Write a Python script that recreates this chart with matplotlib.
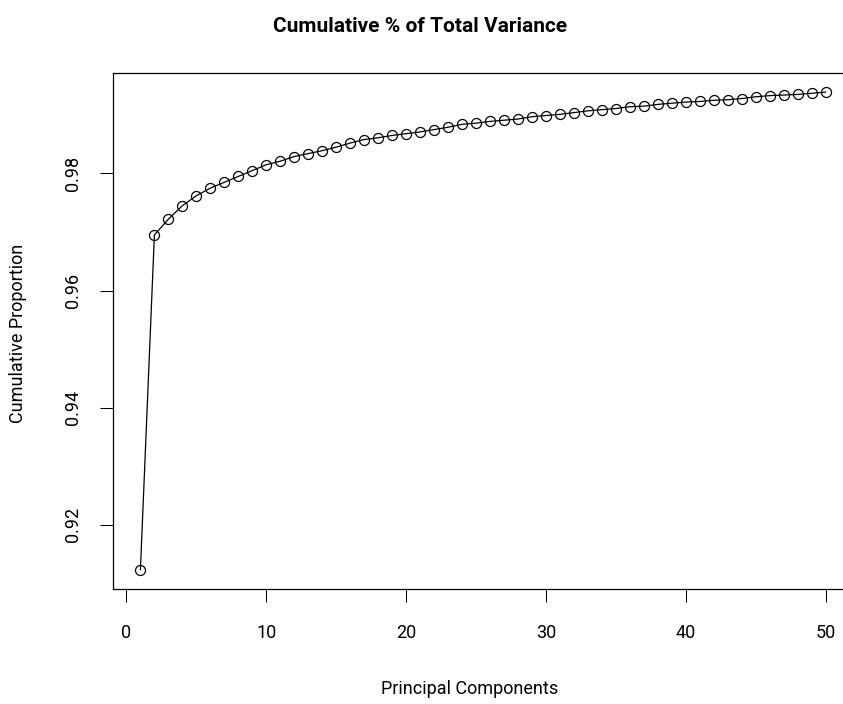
# Cumulative variance plot (scree-style), R base graphics look
import matplotlib
matplotlib.use("Agg")
import matplotlib.pyplot as plt

# ---------------------------
# data
# ---------------------------
components = list(range(1, 51))
cum_prop = [
    0.9123, 0.9695, 0.9722, 0.9745, 0.9762, 0.9775, 0.9785, 0.9795, 0.9805, 0.9815,
    0.9821, 0.9829, 0.9834, 0.9839, 0.9845, 0.9852, 0.9858, 0.9861, 0.9865, 0.9868,
    0.9871, 0.9875, 0.9879, 0.9884, 0.9886, 0.9889, 0.9891, 0.9893, 0.9897, 0.9899,
    0.9901, 0.9904, 0.9907, 0.9909, 0.9911, 0.9914, 0.9915, 0.9918, 0.9920, 0.9922,
    0.9923, 0.9925, 0.9926, 0.9928, 0.9931, 0.9933, 0.9934, 0.9935, 0.9937, 0.9939,
]
x_ticks = [0, 10, 20, 30, 40, 50]
y_ticks = [0.92, 0.94, 0.96, 0.98]

plt.rcParams["font.family"] = ["Roboto", "DejaVu Sans"]

W, H = 843, 704
fig = plt.figure(figsize=(W / 100, H / 100), dpi=100)

# axes box in pixels (right edge runs past the figure like the original)
left, right, top, bottom = 113, 853, 73, 589
ax = fig.add_axes([left / W, 1 - bottom / H, (right - left) / W, (bottom - top) / H])

ax.plot(components, cum_prop, color="black", lw=0.9,
        marker="o", markersize=7.2, markerfacecolor="none",
        markeredgecolor="black", markeredgewidth=0.9)

# R-style 4% padding
xr = max(components) - min(components)
yr = max(cum_prop) - min(cum_prop)
ax.set_xlim(min(components) - 0.04 * xr, max(components) + 0.04 * xr)
ax.set_ylim(min(cum_prop) - 0.04 * yr, max(cum_prop) + 0.04 * yr)

ax.set_xticks(x_ticks)
ax.set_xticklabels([str(t) for t in x_ticks], fontsize=13)
ax.set_yticks(y_ticks)
ax.set_yticklabels([f"{t:.2f}" for t in y_ticks], fontsize=13,
                   rotation=90, va="center")

ax.tick_params(axis="x", length=9.4, width=0.75, pad=16)
ax.tick_params(axis="y", length=9.4, width=0.75, pad=13)

for s in ax.spines.values():
    s.set_linewidth(0.9)
ax.spines["right"].set_visible(False)

fig.text(420 / W, 1 - 27 / H, "Cumulative % of Total Variance",
         ha="center", va="center", fontsize=15, fontweight="bold")
fig.text(470 / W, 1 - 689 / H, "Principal Components",
         ha="center", va="center", fontsize=13)
fig.text(18 / W, 1 - 333 / H, "Cumulative Proportion",
         ha="center", va="center", fontsize=13, rotation=90)

fig.savefig("out.png", dpi=100)
